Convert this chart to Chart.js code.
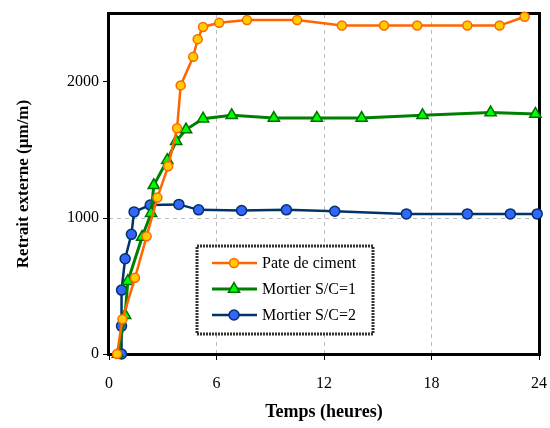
<!DOCTYPE html>
<html>
<head>
<meta charset="utf-8">
<script src="https://cdn.jsdelivr.net/npm/chart.js@4/dist/chart.umd.min.js"></script>
<style>
  html, body { margin: 0; padding: 0; background: #fff; }
  canvas { display: block; }
</style>
</head>
<body>
<canvas id="retrait" width="550" height="428"></canvas>
<script>
// temps (heures) et retrait (µm/m)
const tempsPate = [0.45, 0.75, 1.45, 2.1, 2.7, 3.3, 3.8, 4.0, 4.7, 4.95, 5.25, 6.15, 7.7, 10.5, 13.0, 15.35, 17.2, 20.0, 21.8, 23.2];
const retraitPate = [0, 255, 560, 865, 1150, 1380, 1660, 1975, 2185, 2315, 2405, 2435, 2455, 2455, 2415, 2415, 2415, 2415, 2415, 2480];

const tempsSC1 = [0.5, 0.9, 1.05, 1.85, 2.35, 2.5, 3.25, 3.75, 4.3, 5.25, 6.85, 9.2, 11.6, 14.1, 17.5, 21.3, 23.8];
const retraitSC1 = [0, 285, 535, 860, 1035, 1240, 1425, 1565, 1650, 1730, 1755, 1735, 1735, 1735, 1755, 1775, 1765];

const tempsSC2 = [0.7, 0.7, 0.7, 0.9, 1.25, 1.4, 2.3, 3.9, 5.0, 7.4, 9.9, 12.6, 16.6, 20.0, 22.4, 23.9];
const retraitSC2 = [0, 205, 470, 700, 880, 1045, 1095, 1100, 1060, 1055, 1060, 1050, 1030, 1030, 1030, 1030];

const ticksX = [0, 6, 12, 18, 24];
const ticksY = [0, 1000, 2000];

const police = '"Liberation Serif", "DejaVu Serif", serif';

function points(xs, ys) {
  return xs.map((x, i) => ({ x: x, y: ys[i] }));
}

// cadre noir autour de la zone de tracé
const cadre = {
  id: 'cadre',
  beforeDatasetsDraw(chart) {
    const a = chart.chartArea;
    const ctx = chart.ctx;
    ctx.save();
    ctx.strokeStyle = '#000';
    ctx.lineWidth = 3;
    ctx.strokeRect(a.left - 0.5, a.top - 0.5, a.right - a.left + 1, a.bottom - a.top + 1);
    ctx.restore();
  }
};

// légende encadrée dans le graphique
const legende = {
  id: 'legende',
  afterDatasetsDraw(chart) {
    const ctx = chart.ctx;
    const bx = 197, by = 246, bw = 176, bh = 88;
    ctx.save();
    ctx.fillStyle = '#fff';
    ctx.fillRect(bx, by, bw, bh);
    ctx.strokeStyle = '#333';
    ctx.lineWidth = 3;
    ctx.setLineDash([2, 1]);
    ctx.strokeRect(bx, by, bw, bh);
    ctx.setLineDash([]);
    chart.data.datasets.forEach((ds, i) => {
      const y = by + 17 + i * 26;
      ctx.strokeStyle = ds.borderColor;
      ctx.lineWidth = ds.borderWidth;
      ctx.beginPath();
      ctx.moveTo(212, y);
      ctx.lineTo(257, y);
      ctx.stroke();
      ctx.fillStyle = ds.pointBackgroundColor;
      ctx.strokeStyle = ds.pointBorderColor;
      ctx.lineWidth = ds.pointBorderWidth;
      Chart.helpers.drawPoint(ctx, {
        pointStyle: ds.pointStyle,
        radius: ds.pointRadius,
        rotation: 0,
        borderWidth: ds.pointBorderWidth
      }, 234, y);
      ctx.fillStyle = '#000';
      ctx.font = '16px ' + police;
      ctx.textBaseline = 'middle';
      ctx.fillText(ds.label, 262, y + 1);
    });
    ctx.restore();
  }
};

new Chart(document.getElementById('retrait'), {
  type: 'line',
  data: {
    datasets: [{
      label: 'Pate de ciment',
      data: points(tempsPate, retraitPate),
      borderColor: '#FF6600',
      borderWidth: 2.5,
      pointStyle: 'circle',
      pointRadius: 4.5,
      pointBackgroundColor: '#FFCC00',
      pointBorderColor: '#FF6600',
      pointBorderWidth: 1.5
    }, {
      label: 'Mortier S/C=1',
      data: points(tempsSC1, retraitSC1),
      borderColor: '#008000',
      borderWidth: 3,
      pointStyle: 'triangle',
      pointRadius: 6.5,
      pointBackgroundColor: '#00FF00',
      pointBorderColor: '#007000',
      pointBorderWidth: 1.5
    }, {
      label: 'Mortier S/C=2',
      data: points(tempsSC2, retraitSC2),
      borderColor: '#003366',
      borderWidth: 2.5,
      pointStyle: 'circle',
      pointRadius: 5,
      pointBackgroundColor: '#3366FF',
      pointBorderColor: '#003366',
      pointBorderWidth: 1.5
    }]
  },
  options: {
    responsive: false,
    animation: false,
    clip: false,
    layout: { padding: { left: 0, right: 11, top: 14, bottom: 0 } },
    plugins: {
      legend: { display: false },
      tooltip: { enabled: false }
    },
    elements: { line: { tension: 0 } },
    scales: {
      x: {
        type: 'linear',
        min: 0,
        max: 24,
        afterFit(scale) {
          scale.height = 74;
          scale.paddingLeft = 0;
          scale.paddingRight = 0;
        },
        afterBuildTicks(scale) { scale.ticks = ticksX.map(v => ({ value: v })); },
        ticks: {
          color: '#000',
          font: { family: police, size: 16 },
          padding: 14,
          maxRotation: 0,
          callback: v => String(v)
        },
        grid: {
          color: ctx => (ctx.tick && ctx.tick.value > 0 && ctx.tick.value < 24) ? '#BBBBBB' : 'rgba(0,0,0,0)',
          lineWidth: 1,
          tickLength: 6,
          tickColor: '#000',
          tickWidth: 1,
          tickBorderDash: []
        },
        border: { display: false, dash: [4, 4] },
        title: {
          display: true,
          text: 'Temps (heures)',
          color: '#000',
          font: { family: police, size: 18, weight: 'bold' },
          padding: { top: 0, bottom: 5 }
        }
      },
      y: {
        min: 0,
        max: 2500,
        afterFit(scale) {
          scale.width = 109;
          scale.paddingTop = 0;
          scale.paddingBottom = 0;
        },
        afterBuildTicks(scale) { scale.ticks = ticksY.map(v => ({ value: v })); },
        ticks: {
          color: '#000',
          font: { family: police, size: 16 },
          padding: 4,
          callback: v => String(v)
        },
        grid: {
          color: ctx => (ctx.tick && ctx.tick.value === 1000) ? '#BBBBBB' : 'rgba(0,0,0,0)',
          lineWidth: 1,
          tickLength: 6,
          tickColor: '#000',
          tickWidth: 1,
          tickBorderDash: []
        },
        border: { display: false, dash: [4, 4] },
        title: {
          display: true,
          text: 'Retrait externe (µm/m)',
          color: '#000',
          font: { family: police, size: 17, weight: 'bold' },
          padding: { top: 13, bottom: 0 }
        }
      }
    }
  },
  plugins: [cadre, legende]
});
</script>
</body>
</html>
